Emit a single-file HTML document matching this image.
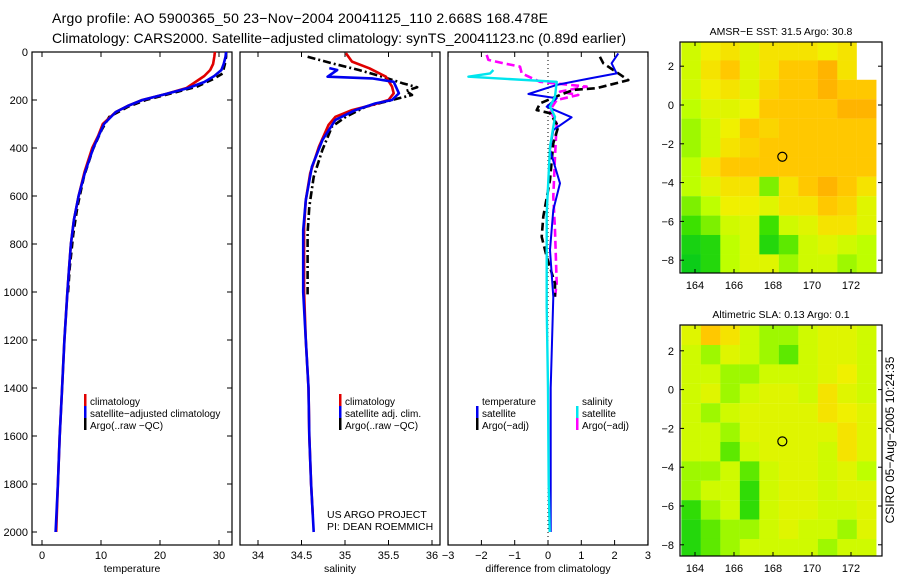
<!DOCTYPE html>
<html><head><meta charset="utf-8"><style>
html,body{margin:0;padding:0;background:#fff;}
svg{display:block;font-family:"Liberation Sans",sans-serif;}
</style></head><body>
<svg id="fig" width="900" height="580" viewBox="0 0 900 580">
<text x="52" y="23" font-size="14" textLength="496">Argo profile: AO 5900365_50 23−Nov−2004 20041125_110 2.668S 168.478E</text>
<text x="52" y="43" font-size="14" textLength="574">Climatology: CARS2000. Satellite−adjusted climatology: synTS_20041123.nc (0.89d earlier)</text>
<text transform="translate(894,440) rotate(-90)" text-anchor="middle" font-size="12">CSIRO 05−Aug−2005 10:24:35</text>
</svg>
<script>
// ---------- data ----------
const depthClim = [0,20,50,75,100,125,150,175,200,225,250,300,350,400,500,600,700,800,900,1000,1200,1400,1600,1800,2000];
const tempClim = [29.3,29.2,29,28.5,27.5,26,24.5,21,17,14.5,12.5,10.3,9.5,8.5,7.2,6.2,5.4,4.9,4.6,4.3,3.8,3.4,3.0,2.7,2.4];
const tempSat  = [31.2,31.1,30.8,30.4,29.2,27.5,24.8,21,17,14.5,12.5,10.5,9.6,8.7,7.3,6.2,5.4,4.9,4.6,4.3,3.8,3.4,3.0,2.7,2.3];
const depthArgoT = [0,20,50,90,113,145,175,200,228,270,325,408,520,645,758,900,1006];
const tempArgo = [31.2,31.2,31.0,30.6,29,26.2,21.5,17.6,14.6,11.4,10.1,8.6,7.1,6.0,5.3,4.7,4.4];

const depthSalC = [5,40,68,103,144,172,200,221,242,270,304,395,505,617,728,1000,1200,1400,1600,1800,1930];
const salClim = [35.01,35.08,35.28,35.47,35.54,35.56,35.5,35.31,35.08,34.89,34.81,34.70,34.6,34.55,34.53,34.53,34.55,34.58,34.59,34.61,34.63];
const depthSalS = [67,75,103,110,124,172,200,214,242,283,367,478,617,742,1000,1200,1400,1600,1800,2000];
const salSat = [34.82,34.91,34.80,35.31,35.56,35.62,35.54,35.35,35.12,34.89,34.74,34.62,34.55,34.52,34.52,34.55,34.58,34.59,34.61,34.64];
const depthSalA = [20,47,75,103,130,147,162,179,200,228,270,311,408,520,645,755,1010];
const salArgo = [34.57,34.85,35.16,35.43,35.66,35.83,35.7,35.77,35.54,35.24,35.01,34.85,34.74,34.64,34.59,34.57,34.57];

const depthDTS = [6,47,89,110,137,175,193,228,272,325,408,547,658,825,1020,1400,1800,2000];
const diffTempSat = [2.11,1.91,2.06,1.26,0.26,-0.59,0.26,-0.04,0.71,0.16,0.06,0.36,0.16,0.06,0.16,0.08,0.08,0.08];
const depthDTA = [20,47,117,151,158,179,214,242,255,311,380,533,686,770,853,964,1020];
const diffTempArgo = [1.56,1.66,2.41,1.46,0.76,0.36,-0.24,-0.34,0.06,0.31,0.16,0.06,-0.14,-0.19,-0.04,0.21,0.21];
const depthDSS = [75,89,103,124,186,228,270,395,672,1061,1400,1800,2000];
const diffSalSat = [-1.64,-1.74,-2.39,0.26,0.21,0.06,0.21,0.06,-0.04,-0.04,0.0,0.02,0.05];
const depthDSA = [12,33,47,61,89,124,144,165,179,200,242,297,436,603,742,964,1020];
const diffSalArgo = [-1.84,-1.79,-1.34,-0.84,-0.79,-0.24,1.16,0.36,0.91,0.26,0.06,0.26,0.21,0.16,0.21,0.26,0.21];

const depthTicks = [0,200,400,600,800,1000,1200,1400,1600,1800,2000];
const tempTicks = [0,10,20,30];
const salTicks = [34,34.5,35,35.5,36];
const diffTicks = [-3,-2,-1,0,1,2,3];

// map grids: rows from lat 3.3 southward (1 deg), cols from lon 163.3 eastward (1 deg); -1 = missing
const sstGrid = [
[0.5,0.6,0.65,0.55,0.65,0.65,0.65,0.6,0.65,-1],
[0.5,0.65,0.75,0.55,0.65,0.75,0.75,0.85,0.65,-1],
[0.5,0.6,0.65,0.55,0.7,0.75,0.75,0.85,0.75,0.75],
[0.45,0.55,0.55,0.6,0.75,0.75,0.75,0.75,0.85,0.85],
[0.4,0.5,0.6,0.75,0.7,0.75,0.75,0.75,0.75,0.75],
[0.4,0.5,0.65,0.7,0.75,0.75,0.75,0.75,0.75,0.75],
[0.45,0.65,0.75,0.75,0.75,0.75,0.75,0.75,0.75,0.75],
[0.45,0.55,0.65,0.65,0.35,0.65,0.75,0.85,0.75,0.65],
[0.35,0.45,0.6,0.6,0.55,0.65,0.65,0.75,0.7,0.55],
[0.25,0.35,0.5,0.55,0.25,0.5,0.55,0.65,0.65,0.55],
[0.1,0.15,0.45,0.55,0.15,0.3,0.5,0.55,0.5,0.45],
[0.05,0.15,0.45,0.55,0.55,0.4,0.5,0.5,0.4,0.45]];
const slaGrid = [
[0.55,0.75,0.65,0.5,0.4,0.4,0.5,0.55,0.55,0.5],
[0.5,0.4,0.55,0.5,0.4,0.3,0.5,0.55,0.55,0.5],
[0.5,0.5,0.4,0.4,0.5,0.5,0.5,0.55,0.6,0.5],
[0.5,0.55,0.4,0.5,0.55,0.55,0.5,0.65,0.55,0.5],
[0.5,0.4,0.5,0.55,0.55,0.55,0.55,0.65,0.6,0.55],
[0.5,0.5,0.4,0.55,0.55,0.55,0.55,0.55,0.65,0.55],
[0.5,0.5,0.3,0.5,0.55,0.55,0.55,0.5,0.65,0.55],
[0.4,0.4,0.5,0.3,0.5,0.55,0.55,0.5,0.55,0.45],
[0.4,0.5,0.5,0.2,0.5,0.55,0.55,0.5,0.55,0.55],
[0.2,0.4,0.5,0.2,0.5,0.55,0.55,0.5,0.5,0.55],
[0.15,0.3,0.4,0.4,0.5,0.55,0.5,0.5,0.4,0.55],
[0.15,0.3,0.4,0.5,0.5,0.5,0.5,0.4,0.5,0.5]];
const lonTicks = [164,166,168,170,172];
const latTicks = [2,0,-2,-4,-6,-8];
const floatLon = 168.478, floatLat = -2.668;

// ---------- drawing ----------
const NS="http://www.w3.org/2000/svg";
const svg=document.getElementById('fig');
function mk(tag,attrs,parent){const e=document.createElementNS(NS,tag);for(const k in attrs)e.setAttribute(k,attrs[k]);(parent||svg).appendChild(e);return e;}
const yD = d => 52 + d/200*48;
const PT=52, PB=545;

function panel(name,x0,x1,xf,ticks,fmt,title){
  const g=mk('g',{});
  
  
  const r=mk('rect',{x:x0,y:PT,width:x1-x0,height:PB-PT,fill:'none',stroke:'#000','stroke-width':1.2},g);
  
  
  ticks.forEach(v=>{const x=xf(v);
    mk('line',{x1:x,x2:x,y1:PB,y2:PB-5,stroke:'#000'},g);
    mk('line',{x1:x,x2:x,y1:PT,y2:PT+5,stroke:'#000'},g);
    const t=mk('text',{x:x,y:559,'font-size':11,'text-anchor':'middle'},g);t.textContent=fmt(v);
    
    
  });
  const tt=mk('text',{x:(x0+x1)/2,y:572,'font-size':10.5,'text-anchor':'middle'},g);tt.textContent=title;
  
  
  return g;
}
function line(g,name,xs,ds,xf,color,dash,w){
  const pts=xs.map((v,i)=>xf(v).toFixed(1)+','+yD(ds[i]).toFixed(1)).join(' ');
  const p=mk('polyline',{points:pts,fill:'none',stroke:color,'stroke-width':w||2.6,'stroke-linejoin':'round'},g);
  if(dash)p.setAttribute('stroke-dasharray',dash);
  
  
}
function legend(g,x,y,color,label,name){
  if(color){const b=mk('rect',{x:x-6,y:y-7,width:2.5,height:12,fill:color},g);
    
    }
  const t=mk('text',{x:x,y:y+4,'font-size':10},g);t.textContent=label;
  
  
}

// panel 1 temperature
const xT=v=>42+v*5.9;
const g1=panel('temperature-panel',32,232,xT,tempTicks,v=>v,'temperature');
depthTicks.forEach(d=>{const y=yD(d);
  mk('line',{x1:32,x2:37,y1:y,y2:y,stroke:'#000'},g1);
  mk('line',{x1:232,x2:227,y1:y,y2:y,stroke:'#000'},g1);
  const t=mk('text',{x:28,y:y+4,'font-size':11,'text-anchor':'end'},g1);t.textContent=d;
  
  
});
line(g1,'temp-argo-line',tempArgo,depthArgoT,xT,'#000','7,4');
line(g1,'temp-climatology-line',tempClim,depthClim,xT,'#e00000');
line(g1,'temp-satellite-line',tempSat,depthClim,xT,'#0000ee');
legend(g1,90,401,'#e00000','climatology','legend-climatology');
legend(g1,90,413,'#0000ee','satellite−adjusted climatology','legend-satellite');
legend(g1,90,425,'#000','Argo(..raw −QC)','legend-argo');

// panel 2 salinity
const xS=v=>258+(v-34)*87;
const g2=panel('salinity-panel',240,440,xS,salTicks,v=>v,'salinity');
line(g2,'sal-argo-line',salArgo,depthSalA,xS,'#000','8,3,2,3');
line(g2,'sal-climatology-line',salClim,depthSalC,xS,'#e00000');
line(g2,'sal-satellite-line',salSat,depthSalS,xS,'#0000ee');
legend(g2,345,401,'#e00000','climatology','legend2-climatology');
legend(g2,345,413,'#0000ee','satellite adj. clim.','legend2-satellite');
legend(g2,345,425,'#000','Argo(..raw −QC)','legend2-argo');
const us=mk('text',{x:327,y:518,'font-size':10.5},g2);us.textContent='US ARGO PROJECT';


const pi=mk('text',{x:327,y:530,'font-size':10.5},g2);pi.textContent='PI: DEAN ROEMMICH';



// panel 3 differences
const xDf=v=>548+v*33.3;
const g3=panel('difference-panel',448,648,xDf,diffTicks,v=>v<0?'−'+(-v):v,'difference from climatology');
mk('line',{x1:xDf(0),x2:xDf(0),y1:PT,y2:PB,stroke:'#000','stroke-dasharray':'1,3'},g3);
line(g3,'diff-sal-argo-line',diffSalArgo,depthDSA,xDf,'#ff00ff','8,4');
line(g3,'diff-temp-argo-line',diffTempArgo,depthDTA,xDf,'#000','8,4');
line(g3,'diff-temp-sat-line',diffTempSat,depthDTS,xDf,'#0000ee',null,2);
line(g3,'diff-sal-sat-line',diffSalSat,depthDSS,xDf,'#00e5ee',null,2.4);
legend(g3,482,401,null,'temperature','legend3-temp-header');
legend(g3,482,413,'#0000ee','satellite','legend3-temp-satellite');
legend(g3,482,425,'#000','Argo(−adj)','legend3-temp-argo');
legend(g3,582,401,null,'salinity','legend3-sal-header');
legend(g3,582,413,'#00e5ee','satellite','legend3-sal-satellite');
legend(g3,582,425,'#ff00ff','Argo(−adj)','legend3-sal-argo');

// maps
function colorOf(v){
  const stops=[[0,[0,200,30]],[0.25,[60,225,0]],[0.45,[190,255,0]],[0.6,[240,240,0]],[0.75,[255,200,0]],[1,[255,150,0]]];
  for(let i=1;i<stops.length;i++){if(v<=stops[i][0]){const a=stops[i-1],b=stops[i],t=(v-a[0])/(b[0]-a[0]);
    return 'rgb('+a[1].map((c,k)=>Math.round(c+(b[1][k]-c)*t)).join(',')+')';}}
  return 'rgb(255,150,0)';
}
function drawMap(name,grid,top,lat0y,title){
  const x0=680,x1=882,bottom=top+231;
  const xL=lon=>695+(lon-164)*19.5;
  const yL=lat=>lat0y-lat*19.4;
  const g=mk('g',{});
  
  
  const cp=mk('clipPath',{id:name+'-clip'},g);
  mk('rect',{x:x0,y:top,width:x1-x0,height:bottom-top},cp);
  const cells=mk('g',{'clip-path':'url(#'+name+'-clip)'},g);
  grid.forEach((row,r)=>row.forEach((v,c)=>{
    const lonA=163.3+c, latA=3.3-r;
    const rc=mk('rect',{x:xL(lonA),y:yL(latA),width:19.6,height:19.5,fill:v<0?'#fff':colorOf(v)},cells);
    
    
  }));
  mk('rect',{x:x0,y:top,width:x1-x0,height:bottom-top,fill:'none',stroke:'#000','stroke-width':1.2},g);
  lonTicks.forEach(l=>{const x=xL(l);
    mk('line',{x1:x,x2:x,y1:bottom,y2:bottom-4,stroke:'#000'},g);
    mk('line',{x1:x,x2:x,y1:top,y2:top+4,stroke:'#000'},g);
    const t=mk('text',{x:x,y:bottom+16,'font-size':11,'text-anchor':'middle'},g);t.textContent=l;
    
    
  });
  latTicks.forEach(l=>{const y=yL(l);
    mk('line',{x1:x0,x2:x0+4,y1:y,y2:y,stroke:'#000'},g);
    mk('line',{x1:x1,x2:x1-4,y1:y,y2:y,stroke:'#000'},g);
    const t=mk('text',{x:x0-6,y:y+4,'font-size':11,'text-anchor':'end'},g);t.textContent=l<0?'−'+(-l):l;
    
    
  });
  const c=mk('circle',{cx:xL(floatLon),cy:yL(floatLat),r:4.5,fill:'none',stroke:'#000','stroke-width':1.2},g);
  
  
  const t=mk('text',{x:(x0+x1)/2,y:top-7,'font-size':10.5,'text-anchor':'middle'},g);t.textContent=title;
  
  
}
drawMap('sst-map',sstGrid,42,105,'AMSR−E SST: 31.5 Argo: 30.8');
drawMap('sla-map',slaGrid,325,389.6,'Altimetric SLA: 0.13 Argo: 0.1');
</script>
</body></html>
